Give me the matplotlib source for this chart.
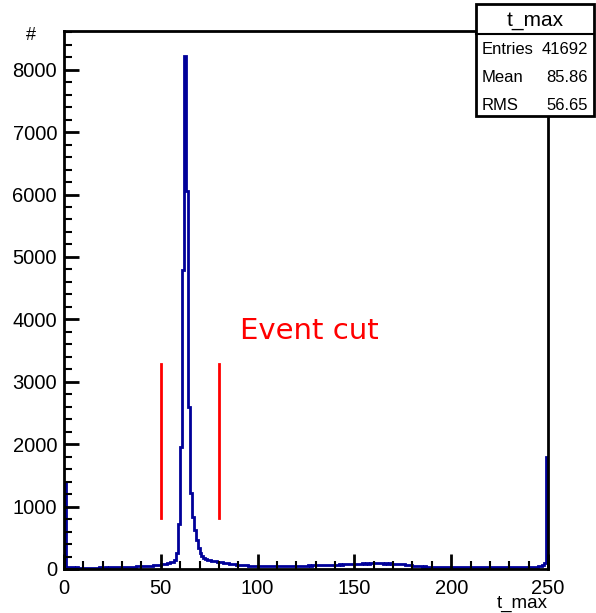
import matplotlib
matplotlib.use("Agg")
import matplotlib.pyplot as plt
import numpy as np
from matplotlib.patches import Rectangle
from matplotlib.lines import Line2D

# t_max histogram, 250 bins of width 1 between 0 and 250
bin_edges = np.arange(0, 251, 1)
counts = [
    1370, 40, 30, 25, 28, 22, 25, 20, 24, 22,
    20, 23, 19, 22, 21, 24, 20, 22, 25, 23,
    24, 26, 22, 25, 28, 26, 30, 27, 29, 32,
    30, 34, 36, 33, 38, 40, 37, 42, 45, 43,
    46, 50, 48, 52, 55, 53, 58, 60, 62, 65,
    75, 80, 85, 90, 95, 105, 115, 140, 260, 720,
    1960, 4790, 8220, 6060, 2600, 1220, 830, 620, 460, 340,
    260, 210, 180, 160, 150, 140, 135, 128, 122, 118,
    112, 108, 104, 100, 96, 88, 84, 80, 76, 72,
    68, 65, 62, 60, 58, 56, 54, 52, 50, 50,
    48, 45, 50, 47, 44, 46, 49, 45, 43, 47,
    46, 44, 48, 45, 47, 50, 46, 48, 52, 49,
    50, 53, 51, 55, 52, 56, 58, 55, 60, 57,
    62, 60, 64, 61, 66, 63, 68, 65, 70, 67,
    72, 70, 74, 71, 76, 78, 75, 80, 77, 82,
    85, 80, 88, 84, 90, 86, 92, 88, 94, 90,
    92, 95, 89, 93, 90, 88, 92, 86, 89, 84,
    87, 82, 85, 80, 78, 75, 72, 68, 62, 58,
    52, 48, 45, 42, 44, 40, 42, 38, 40, 37,
    39, 36, 38, 35, 37, 34, 36, 33, 35, 34,
    33, 35, 32, 34, 31, 33, 30, 32, 34, 31,
    30, 33, 29, 31, 30, 32, 28, 30, 29, 31,
    30, 28, 31, 29, 27, 30, 28, 29, 26, 28,
    30, 27, 29, 28, 30, 32, 29, 31, 33, 30,
    32, 34, 31, 35, 38, 42, 48, 60, 90, 1790,
]

# event cut window
cut_positions = [50, 80]
cut_y_range = [820, 3280]

stats_title = "t_max"
stats_names = ["Entries", "Mean", "RMS"]
stats_values = ["41692", "85.86", "56.65"]

W, H = 596, 613
fig = plt.figure(figsize=(W / 100, H / 100), dpi=100)
ax = fig.add_axes([64 / W, 1 - 569 / H, (548 - 64) / W, (569 - 31) / H])

ax.stairs(counts, bin_edges, color="#000099", linewidth=2)

for xc in cut_positions:
    ax.plot([xc, xc], cut_y_range, color="#ff0000", linewidth=2)
ax.text(91, 3815, "Event cut", color="#ff0000", fontsize=21,
        family="DejaVu Sans", va="center", ha="left")

ax.set_xlim(0, 250)
ax.set_ylim(0, 8620)
ax.set_xticks(np.arange(0, 251, 50))
ax.set_xticks(np.arange(0, 251, 10), minor=True)
ax.set_yticks(np.arange(0, 8001, 1000))
ax.set_yticks(np.arange(0, 8601, 200), minor=True)
ax.tick_params(which="major", direction="in", length=11, width=2,
               labelsize=14.5, top=False, right=False)
ax.tick_params(which="minor", direction="in", length=6, width=1.5,
               top=False, right=False)
ax.tick_params(axis="x", pad=7)
ax.tick_params(axis="y", pad=5)
for lab in ax.get_xticklabels() + ax.get_yticklabels():
    lab.set_family("Liberation Sans")
for sp in ax.spines.values():
    sp.set_linewidth(2)

fig.text(548 / W, 1 - 603 / H, "t_max", ha="right", va="center",
         fontsize=13.5, family="Liberation Sans")
fig.text(31 / W, 1 - 35 / H, "#", ha="center", va="center",
         fontsize=13, family="Liberation Sans")

# stats box
bx0, bx1 = 476 / W, 594 / W
by0, by1 = 1 - 116 / H, 1 - 4 / H
fig.patches.append(Rectangle((bx0, by0), bx1 - bx0, by1 - by0, transform=fig.transFigure,
                             facecolor="white", edgecolor="black", linewidth=2, zorder=5))
fig.lines.append(Line2D([bx0, bx1], [1 - 34 / H] * 2, transform=fig.transFigure,
                        color="black", linewidth=1.5, zorder=6))
fig.text((bx0 + bx1) / 2, 1 - 20 / H, stats_title, ha="center", va="center",
         fontsize=15, family="Liberation Sans", zorder=7)
for i, (name, val) in enumerate(zip(stats_names, stats_values)):
    yy = 1 - (50 + 27.5 * i) / H
    fig.text(482 / W, yy, name, ha="left", va="center", fontsize=12,
             family="Liberation Sans", zorder=7)
    fig.text(588 / W, yy, val, ha="right", va="center", fontsize=12,
             family="Liberation Sans", zorder=7)

fig.savefig("out.png", dpi=100)
